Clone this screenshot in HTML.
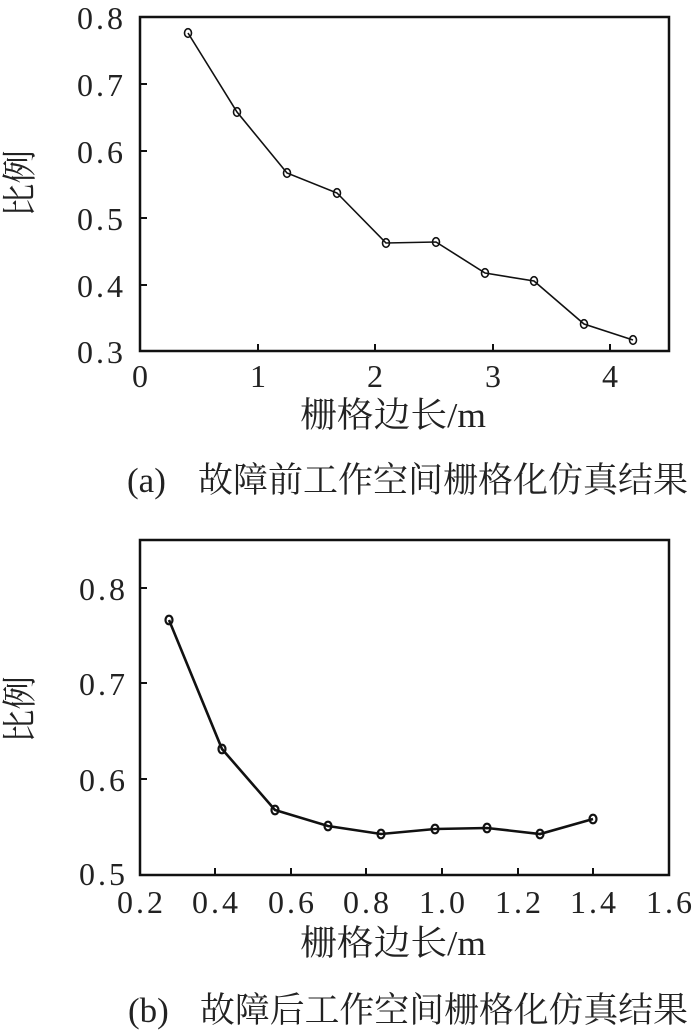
<!DOCTYPE html>
<html><head><meta charset="utf-8"><style>
html,body{margin:0;padding:0;background:#fff;}
svg{display:block;}
.t{font-family:"Liberation Serif","Noto Serif CJK SC",serif;font-size:32px;fill:#222;}
.c{font-family:"Liberation Serif","Noto Serif CJK SC",serif;font-size:35px;fill:#222;}
</style></head><body>
<svg width="700" height="1033" viewBox="0 0 700 1033" xmlns="http://www.w3.org/2000/svg">
<!-- Chart (a) -->
<rect x="140" y="17" width="529" height="334" fill="none" stroke="#111" stroke-width="2.5"/>
<g stroke="#111" stroke-width="2">
<line x1="140" y1="84" x2="147" y2="84"/>
<line x1="140" y1="151" x2="147" y2="151"/>
<line x1="140" y1="218" x2="147" y2="218"/>
<line x1="140" y1="285" x2="147" y2="285"/>
<line x1="258" y1="351" x2="258" y2="344"/>
<line x1="375" y1="351" x2="375" y2="344"/>
<line x1="493" y1="351" x2="493" y2="344"/>
<line x1="610" y1="351" x2="610" y2="344"/>
</g>
<g class="t" text-anchor="end">
<text x="123" y="29" textLength="46" lengthAdjust="spacing">0.8</text>
<text x="123" y="96" textLength="46" lengthAdjust="spacing">0.7</text>
<text x="123" y="163" textLength="46" lengthAdjust="spacing">0.6</text>
<text x="123" y="230" textLength="46" lengthAdjust="spacing">0.5</text>
<text x="123" y="297" textLength="46" lengthAdjust="spacing">0.4</text>
<text x="123" y="363" textLength="46" lengthAdjust="spacing">0.3</text>
</g>
<g class="t" text-anchor="middle">
<text x="140" y="387">0</text>
<text x="258" y="387">1</text>
<text x="375" y="387">2</text>
<text x="493" y="387">3</text>
<text x="610" y="387">4</text>
</g>
<text class="c" x="300" y="427" textLength="186" lengthAdjust="spacingAndGlyphs">栅格边长/m</text>
<text class="c" transform="translate(32,217) rotate(-90)" textLength="67" lengthAdjust="spacingAndGlyphs">比例</text>
<polyline fill="none" stroke="#111" stroke-width="1.6" points="188,33 237,112 287,173 337,193 386,243 436,242 485,273 534,281 584,324 633,340"/>
<g fill="none" stroke="#111" stroke-width="1.6">
<ellipse cx="188" cy="33" rx="3.5" ry="4.3"/>
<ellipse cx="237" cy="112" rx="3.5" ry="4.3"/>
<ellipse cx="287" cy="173" rx="3.5" ry="4.3"/>
<ellipse cx="337" cy="193" rx="3.5" ry="4.3"/>
<ellipse cx="386" cy="243" rx="3.5" ry="4.3"/>
<ellipse cx="436" cy="242" rx="3.5" ry="4.3"/>
<ellipse cx="485" cy="273" rx="3.5" ry="4.3"/>
<ellipse cx="534" cy="281" rx="3.5" ry="4.3"/>
<ellipse cx="584" cy="324" rx="3.5" ry="4.3"/>
<ellipse cx="633" cy="340" rx="3.5" ry="4.3"/>
</g>
<text class="c" x="127" y="492">(a)</text>
<text class="c" x="198" y="492" textLength="490" lengthAdjust="spacingAndGlyphs">故障前工作空间栅格化仿真结果</text>

<!-- Chart (b) -->
<rect x="140" y="540" width="529" height="335" fill="none" stroke="#111" stroke-width="2.5"/>
<g stroke="#111" stroke-width="2">
<line x1="140" y1="588" x2="147" y2="588"/>
<line x1="140" y1="683" x2="147" y2="683"/>
<line x1="140" y1="779" x2="147" y2="779"/>
<line x1="215" y1="875" x2="215" y2="868"/>
<line x1="291" y1="875" x2="291" y2="868"/>
<line x1="366" y1="875" x2="366" y2="868"/>
<line x1="442" y1="875" x2="442" y2="868"/>
<line x1="518" y1="875" x2="518" y2="868"/>
<line x1="593" y1="875" x2="593" y2="868"/>
</g>
<g class="t" text-anchor="end">
<text x="125" y="600" textLength="46" lengthAdjust="spacing">0.8</text>
<text x="125" y="695" textLength="46" lengthAdjust="spacing">0.7</text>
<text x="125" y="791" textLength="46" lengthAdjust="spacing">0.6</text>
<text x="125" y="885" textLength="46" lengthAdjust="spacing">0.5</text>
</g>
<g class="t">
<text x="117" y="913" textLength="46" lengthAdjust="spacing">0.2</text>
<text x="192" y="913" textLength="46" lengthAdjust="spacing">0.4</text>
<text x="268" y="913" textLength="46" lengthAdjust="spacing">0.6</text>
<text x="343" y="913" textLength="46" lengthAdjust="spacing">0.8</text>
<text x="419" y="913" textLength="46" lengthAdjust="spacing">1.0</text>
<text x="495" y="913" textLength="46" lengthAdjust="spacing">1.2</text>
<text x="570" y="913" textLength="46" lengthAdjust="spacing">1.4</text>
<text x="646" y="913" textLength="46" lengthAdjust="spacing">1.6</text>
</g>
<text class="c" x="300" y="955" textLength="186" lengthAdjust="spacingAndGlyphs">栅格边长/m</text>
<text class="c" transform="translate(32,743) rotate(-90)" textLength="67" lengthAdjust="spacingAndGlyphs">比例</text>
<polyline fill="none" stroke="#111" stroke-width="2.6" points="169,620 222,749 275,810 328,826 381,834 435,829 487,828 540,834 593,819"/>
<g fill="none" stroke="#111" stroke-width="2.2">
<ellipse cx="169" cy="620" rx="3.5" ry="4.3"/>
<ellipse cx="222" cy="749" rx="3.5" ry="4.3"/>
<ellipse cx="275" cy="810" rx="3.5" ry="4.3"/>
<ellipse cx="328" cy="826" rx="3.5" ry="4.3"/>
<ellipse cx="381" cy="834" rx="3.5" ry="4.3"/>
<ellipse cx="435" cy="829" rx="3.5" ry="4.3"/>
<ellipse cx="487" cy="828" rx="3.5" ry="4.3"/>
<ellipse cx="540" cy="834" rx="3.5" ry="4.3"/>
<ellipse cx="593" cy="819" rx="3.5" ry="4.3"/>
</g>
<text class="c" x="128" y="1022">(b)</text>
<text class="c" x="200" y="1022" textLength="488" lengthAdjust="spacingAndGlyphs">故障后工作空间栅格化仿真结果</text>
</svg>
</body></html>
